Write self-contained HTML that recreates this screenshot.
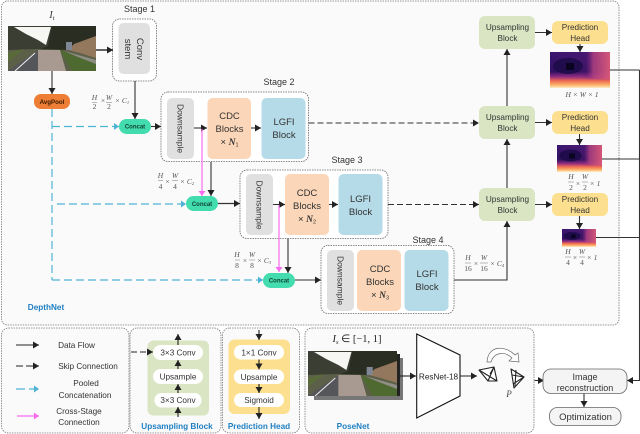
<!DOCTYPE html>
<html><head><meta charset="utf-8"><style>
html,body{margin:0;padding:0;background:#fff}
svg{display:block}
text{font-family:"Liberation Sans",sans-serif;fill:#333;text-anchor:middle}
.m{font-family:"Liberation Serif",serif;font-style:italic;fill:#555;font-size:7.5px}
.b{fill:#1f7fc4;font-weight:bold;font-size:8.2px}
.t{font-size:9.5px}
.s{font-size:9px}
.d{font-size:8.5px}
.l{font-size:8.2px;fill:#333}
.c{font-size:6px;font-weight:bold;fill:#143}
</style></head><body>
<svg xmlns="http://www.w3.org/2000/svg" width="640" height="434" viewBox="0 0 640 434">
<defs>
<marker id="a" markerUnits="userSpaceOnUse" markerWidth="7" markerHeight="8" refX="6" refY="4" orient="auto"><path d="M0 0.5L6 4L0 7.5Z" fill="#222"/></marker>
<marker id="bl" markerUnits="userSpaceOnUse" markerWidth="7" markerHeight="8" refX="5" refY="4" orient="auto"><path d="M0 0.5L5 4L0 7.5Z" fill="#4fb3d6"/></marker>
<marker id="p" markerUnits="userSpaceOnUse" markerWidth="7" markerHeight="8" refX="5" refY="4" orient="auto"><path d="M0 0.5L5 4L0 7.5Z" fill="#f86cf0"/></marker>
<linearGradient id="dv" x1="0" y1="0" x2="0" y2="1"><stop offset="0" stop-color="#3a1670"/><stop offset=".55" stop-color="#30105f"/><stop offset=".68" stop-color="#8a2a80"/><stop offset=".8" stop-color="#ee6a55"/><stop offset=".92" stop-color="#fdb46a"/><stop offset="1" stop-color="#fdeec8"/></linearGradient>
<linearGradient id="dh" x1="0" y1="0" x2="1" y2="0"><stop offset="0" stop-color="#b03a80" stop-opacity="0"/><stop offset=".6" stop-color="#8a2a80" stop-opacity=".15"/><stop offset=".72" stop-color="#b04080" stop-opacity=".85"/><stop offset="1" stop-color="#dc5a78" stop-opacity=".95"/></linearGradient>
<symbol id="scene" viewBox="0 0 88 45" preserveAspectRatio="none">
<rect width="88" height="45" fill="#2a2e22"/>
<path d="M0 0H44L40 20L30 24H0Z" fill="#3a3e33"/>
<path d="M6 1H43L38 19L30 14L18 8Z" fill="#f6f6f3"/>
<path d="M0 24L30 23L60 24L88 30V45H0Z" fill="#5c6048"/>
<path d="M0 27L16 23L0 36Z" fill="#5a6b3a"/>
<path d="M0 45L30 24H32L32 45Z" fill="#55565a"/>
<path d="M30 24L52 24L58 45L30 45Z" fill="#a89a90"/>
<path d="M52 24L88 38L88 45L64 45Z" fill="#4f6a30"/>
<path d="M56 25L88 34L88 38L70 31Z" fill="#8e8e84"/>
<path d="M60 24L66 18L88 10L88 32L72 27Z" fill="#94785e"/>
<path d="M58 16h6v8h-6z" fill="#7f8694"/>
<path d="M7 45L27 27" stroke="#eee" stroke-width="1" fill="none"/>
</symbol>
<symbol id="depth" viewBox="0 0 60 36" preserveAspectRatio="none">
<rect width="60" height="36" fill="url(#dv)"/>
<rect width="60" height="27" fill="url(#dh)"/>
<ellipse cx="18" cy="14" rx="15" ry="8" fill="#1c0a48" opacity=".85"/>
<rect x="16" y="11" width="8" height="7" fill="#0a0420"/>
</symbol>
</defs>

<!-- main panels -->
<rect x="1.5" y="1" width="617.5" height="324" rx="6" fill="#fafafa" stroke="#777" stroke-width=".8" stroke-dasharray="1.5 1"/>
<rect x="1.5" y="328" width="127.5" height="105" rx="7" fill="#fafafa" stroke="#777" stroke-width=".8" stroke-dasharray="1.5 1"/>
<rect x="130" y="328" width="91" height="105" rx="7" fill="#fafafa" stroke="#777" stroke-width=".8" stroke-dasharray="1.5 1"/>
<rect x="222.5" y="328" width="77" height="105" rx="7" fill="#fafafa" stroke="#777" stroke-width=".8" stroke-dasharray="1.5 1"/>
<rect x="305" y="328" width="229" height="105" rx="7" fill="#fafafa" stroke="#777" stroke-width=".8" stroke-dasharray="1.5 1"/>

<!-- stage boxes -->
<g fill="#fff" stroke="#666" stroke-width=".8" stroke-dasharray="1.5 1">
<rect x="112.5" y="19" width="44" height="62" rx="7"/>
<rect x="161" y="92" width="147.5" height="69.5" rx="7"/>
<rect x="240" y="170" width="148" height="68.5" rx="7"/>
<rect x="321" y="245.5" width="133" height="68" rx="7"/>
</g>
<text x="139.5" y="12" class="s">Stage 1</text>
<text x="279" y="85" class="s">Stage 2</text>
<text x="347" y="163" class="s">Stage 3</text>
<text x="428" y="243" class="s">Stage 4</text>

<!-- blocks -->
<g fill="#e0e0e0">
<rect x="118.5" y="23" width="31.5" height="51" rx="5"/>
<rect x="167" y="98" width="27" height="61" rx="5"/>
<rect x="246" y="174" width="27" height="61" rx="5"/>
<rect x="327" y="250" width="27" height="61" rx="5"/>
</g>
<g fill="#fbd6b8">
<rect x="207.5" y="98" width="43.5" height="61" rx="5"/>
<rect x="285" y="174" width="44" height="61" rx="5"/>
<rect x="357" y="250" width="44" height="61" rx="5"/>
</g>
<g fill="#b5dbe8">
<rect x="261.5" y="98" width="44" height="61" rx="5"/>
<rect x="338.5" y="174" width="44" height="61" rx="5"/>
<rect x="404.5" y="250" width="44" height="61" rx="5"/>
</g>
<text transform="translate(128 49) rotate(90)" x="0" y="3" class="t">stem</text>
<text transform="translate(140 49) rotate(90)" x="0" y="3" class="t">Conv</text>
<text transform="translate(180.5 128.5) rotate(90)" x="0" y="3" class="d">Downsample</text>
<text transform="translate(259.5 205) rotate(90)" x="0" y="3" class="d">Downsample</text>
<text transform="translate(340.5 280.5) rotate(90)" x="0" y="3" class="d">Downsample</text>
<text x="229.5" y="119" class="t">CDC</text><text x="229.5" y="132" class="t">Blocks</text>
<text x="229.5" y="145" class="t">× <tspan font-style="italic" font-weight="bold" font-family="Liberation Serif">N</tspan><tspan font-size="5.5" dy="1.5">1</tspan></text>
<text x="284" y="125" class="t">LGFI</text><text x="284" y="138" class="t">Block</text>
<text x="307" y="196" class="t">CDC</text><text x="307" y="209" class="t">Blocks</text>
<text x="307" y="222" class="t">× <tspan font-style="italic" font-weight="bold" font-family="Liberation Serif">N</tspan><tspan font-size="5.5" dy="1.5">2</tspan></text>
<text x="360.5" y="202" class="t">LGFI</text><text x="360.5" y="215" class="t">Block</text>
<text x="380" y="272" class="t">CDC</text><text x="380" y="285" class="t">Blocks</text>
<text x="380" y="298" class="t">× <tspan font-style="italic" font-weight="bold" font-family="Liberation Serif">N</tspan><tspan font-size="5.5" dy="1.5">3</tspan></text>
<text x="427" y="277" class="t">LGFI</text><text x="427" y="290" class="t">Block</text>

<!-- images -->
<text x="52" y="18" style="font-family:'Liberation Serif',serif;font-style:italic;font-size:10px;fill:#333">I<tspan font-size="6.5" dy="2">t</tspan></text>
<use href="#scene" x="8" y="26" width="88" height="45"/>

<!-- AvgPool & Concat -->
<rect x="34" y="94" width="36" height="15" rx="7" fill="#ee7d35"/>
<text x="52" y="104" class="c" style="fill:#3a1a00;font-size:6.2px">AvgPool</text>
<g fill="#42dcae">
<rect x="119" y="119" width="32" height="15" rx="7.5"/>
<rect x="186" y="196" width="32" height="15" rx="7.5"/>
<rect x="263" y="273" width="32" height="15" rx="7.5"/>
</g>
<text x="135" y="128.5" class="c">Concat</text>
<text x="202" y="206" class="c">Concat</text>
<text x="279" y="282.5" class="c">Concat</text>

<!-- solid arrows -->
<g stroke="#333" stroke-width="1.1" fill="none" marker-end="url(#a)">
<path d="M96 50H113" stroke-width="1.4"/>
<path d="M52 71V94"/>
<path d="M135 81V119"/>
<path d="M151 126.5H161"/>
<path d="M194 128H207"/>
<path d="M251 128H261"/>
<path d="M211 162V196"/>
<path d="M218 203.5H240" stroke-width="1.3"/>
<path d="M273 204.5H285"/>
<path d="M329 204.5H338"/>
<path d="M288 238.5V273"/>
<path d="M295 280H321"/>
<path d="M454 280H507V221"/>
<path d="M507 188V139"/>
<path d="M507 106V49"/>
<path d="M535 32.5H552"/>
<path d="M535 122.5H552"/>
<path d="M535 204.5H552"/>
<path d="M580 44V52"/>
<path d="M579.5 134V145"/>
<path d="M579.5 216V229"/>
<path d="M639.5 70V380.5H627"/>
<path d="M584 393V407"/>
<path d="M534.5 380.5H544"/>
</g>
<path d="M610 70H639.5M602 159H639.5M596 237.5H639.5" stroke="#333" stroke-width="1.1" fill="none"/>

<!-- dashed black -->
<g stroke="#333" stroke-width="1.1" fill="none" stroke-dasharray="6 3" marker-end="url(#a)">
<path d="M308.5 123H479"/>
<path d="M388 204.5H479"/>
</g>

<!-- pooled -->
<g stroke="#4fb3d6" stroke-width="1.2" fill="none" stroke-dasharray="8 4">
<path d="M52 109V280"/>
<path d="M52 126.5H119" marker-end="url(#bl)"/>
<path d="M57 204H186" marker-end="url(#bl)"/>
<path d="M52 280H263" marker-end="url(#bl)"/>
</g>

<!-- cross stage -->
<g stroke="#f86cf0" stroke-width="1.2" fill="none" marker-end="url(#p)">
<path d="M202 129V196"/>
<path d="M279 205V272"/>
</g>

<!-- up block & heads -->
<g fill="#d9e5c3">
<rect x="479" y="16" width="56" height="33" rx="6"/>
<rect x="479" y="106" width="56" height="33" rx="6"/>
<rect x="479" y="188" width="56" height="33" rx="6"/>
</g>
<g fill="#fde08f">
<rect x="552" y="21" width="56" height="23" rx="6"/>
<rect x="552" y="111" width="56" height="23" rx="6"/>
<rect x="552" y="193" width="56" height="23" rx="6"/>
</g>
<text x="507.5" y="30" class="l">Upsampling</text><text x="507.5" y="41" class="l">Block</text>
<text x="507.5" y="120" class="l">Upsampling</text><text x="507.5" y="131" class="l">Block</text>
<text x="507.5" y="202" class="l">Upsampling</text><text x="507.5" y="213" class="l">Block</text>
<text x="580" y="30" class="l">Prediction</text><text x="580" y="41" class="l">Head</text>
<text x="580" y="120" class="l">Prediction</text><text x="580" y="131" class="l">Head</text>
<text x="580" y="202" class="l">Prediction</text><text x="580" y="213" class="l">Head</text>
<use href="#depth" x="550" y="52" width="60" height="36"/>
<use href="#depth" x="557" y="145" width="45" height="27"/>
<use href="#depth" x="562" y="229" width="34" height="18"/>

<!-- math labels -->
<text x="94.5" y="100" class="m">H</text><path d="M92 102.5H97" stroke="#777" stroke-width=".5"/><text x="94.5" y="109" class="m" style="font-style:normal">2</text>
<text x="103" y="103" class="m" style="font-style:normal">×</text>
<text x="109" y="100" class="m">W</text><path d="M106 102.5H112" stroke="#777" stroke-width=".5"/><text x="109" y="109" class="m" style="font-style:normal">2</text>
<text x="122" y="103" class="m">× C<tspan font-size="4.5" dy="1">1</tspan></text>

<text x="160.5" y="178" class="m">H</text><path d="M158 180.5H163" stroke="#777" stroke-width=".5"/><text x="160.5" y="189" class="m" style="font-style:normal">4</text>
<text x="167.5" y="184" class="m" style="font-style:normal">×</text>
<text x="175" y="178" class="m">W</text><path d="M172 180.5H178" stroke="#777" stroke-width=".5"/><text x="175" y="189" class="m" style="font-style:normal">4</text>
<text x="187" y="184" class="m">× C<tspan font-size="4.5" dy="1">2</tspan></text>

<text x="237" y="257" class="m">H</text><path d="M235 260H240" stroke="#777" stroke-width=".5"/><text x="237" y="268" class="m" style="font-style:normal">8</text>
<text x="245" y="263" class="m" style="font-style:normal">×</text>
<text x="252" y="257" class="m">W</text><path d="M249 260H255" stroke="#777" stroke-width=".5"/><text x="252" y="268" class="m" style="font-style:normal">8</text>
<text x="264" y="263" class="m">× C<tspan font-size="4.5" dy="1">3</tspan></text>

<text x="468" y="260" class="m">H</text><path d="M465 263H471" stroke="#777" stroke-width=".5"/><text x="468" y="271" class="m" style="font-style:normal">16</text>
<text x="476" y="266" class="m" style="font-style:normal">×</text>
<text x="484" y="260" class="m">W</text><path d="M480 263H488" stroke="#777" stroke-width=".5"/><text x="484" y="271" class="m" style="font-style:normal">16</text>
<text x="497" y="266" class="m">× C<tspan font-size="4.5" dy="1">4</tspan></text>

<text x="582" y="97" class="m">H × W × 1</text>

<text x="571" y="179" class="m">H</text><path d="M568 182H574" stroke="#777" stroke-width=".5"/><text x="571" y="190" class="m" style="font-style:normal">2</text>
<text x="578" y="186" class="m" style="font-style:normal">×</text>
<text x="585" y="179" class="m">W</text><path d="M582 182H588" stroke="#777" stroke-width=".5"/><text x="585" y="190" class="m" style="font-style:normal">2</text>
<text x="595" y="186" class="m">× 1</text>

<text x="568" y="254" class="m">H</text><path d="M565 257H571" stroke="#777" stroke-width=".5"/><text x="568" y="265" class="m" style="font-style:normal">4</text>
<text x="575" y="260" class="m" style="font-style:normal">×</text>
<text x="582" y="254" class="m">W</text><path d="M579 257H585" stroke="#777" stroke-width=".5"/><text x="582" y="265" class="m" style="font-style:normal">4</text>
<text x="592" y="260" class="m">× 1</text>

<text x="46" y="310" class="b">DepthNet</text>

<!-- legend -->
<path d="M16 345H39" stroke="#222" stroke-width="1.1" marker-end="url(#a)"/>
<path d="M16 366H39" stroke="#222" stroke-width="1.1" stroke-dasharray="7 3" marker-end="url(#a)"/>
<path d="M16 389H39" stroke="#4fb3d6" stroke-width="1.2" stroke-dasharray="9 4" marker-end="url(#bl)"/>
<path d="M17 416H39" stroke="#f86cf0" stroke-width="1.2" marker-end="url(#p)"/>
<text x="76.5" y="348" class="l">Data Flow</text>
<text x="88" y="369" class="l">Skip Connection</text>
<text x="86" y="386" class="l">Pooled</text>
<text x="85" y="398" class="l">Concatenation</text>
<text x="79" y="414" class="l">Cross-Stage</text>
<text x="79" y="425" class="l">Connection</text>

<!-- up block legend -->
<rect x="147.5" y="340.5" width="61.5" height="75" rx="6" fill="#d9e5c3"/>
<g fill="#fff">
<rect x="153" y="345" width="50" height="15" rx="7.5"/>
<rect x="153" y="369" width="50" height="15" rx="7.5"/>
<rect x="154.5" y="393" width="47" height="14.5" rx="7"/>
</g>
<text x="178" y="355.5" class="l">3×3 Conv</text>
<text x="178" y="379.5" class="l">Upsample</text>
<text x="178" y="403" class="l">3×3 Conv</text>
<g stroke="#222" stroke-width="1.1" fill="none" marker-end="url(#a)">
<path d="M178 345V334"/><path d="M178 369V360"/><path d="M178 393V384"/><path d="M178 417V407"/>
</g>
<path d="M131 352H153" stroke="#222" stroke-width="1.1" stroke-dasharray="6 3" marker-end="url(#a)"/>
<text x="177" y="429" class="b">Upsampling Block</text>

<!-- pred head legend -->
<rect x="228.5" y="339.5" width="61.5" height="74.5" rx="6" fill="#fde08f"/>
<g fill="#fff">
<rect x="234" y="345" width="50" height="14.5" rx="7"/>
<rect x="234" y="369.5" width="50" height="14.5" rx="7"/>
<rect x="234" y="393" width="50" height="14" rx="7"/>
</g>
<text x="259" y="355.5" class="l">1×1 Conv</text>
<text x="259" y="380" class="l">Upsample</text>
<text x="259" y="403" class="l">Sigmoid</text>
<g stroke="#222" stroke-width="1.1" fill="none" marker-end="url(#a)">
<path d="M259 330V340"/><path d="M259 359.5V369.5"/><path d="M259 384V393"/><path d="M259 407V419"/>
</g>
<text x="259" y="429" class="b">Prediction Head</text>

<!-- posenet -->
<text x="357" y="342" style="font-family:'Liberation Serif',serif;font-size:10.5px;fill:#222"><tspan font-style="italic">I</tspan><tspan font-size="6.5" font-style="italic" dy="2">s</tspan><tspan dy="-2"> ∈ [−1, 1]</tspan></text>
<rect x="314" y="358" width="89" height="42" fill="#777"/>
<rect x="311" y="354" width="89" height="42" fill="#222"/>
<use href="#scene" x="308" y="351" width="89" height="45"/>
<path d="M400 376H416" stroke="#222" stroke-width="1.1" marker-end="url(#a)"/>
<path d="M416.7 334L460 355V396L416.7 418Z" fill="#fff" stroke="#111" stroke-width="1.1"/>
<text x="438.5" y="379.5" class="l" style="fill:#222">ResNet-18</text>
<path d="M460 376H477" stroke="#222" stroke-width="1.1" marker-end="url(#a)"/>
<text x="509" y="397" style="font-family:'Liberation Serif',serif;font-style:italic;font-size:9px;fill:#444">P</text>
<g stroke="#222" stroke-width="1.1" fill="#fff" stroke-linejoin="round">
<path d="M479 370L494 367L497 381L488 381Z"/><path d="M479 370L497 381M494 367L488 381M490 374L494 367" fill="none"/>
<path d="M511 369L524 377L514 388L511 369Z"/><path d="M512 375L524 377L513 384M516 370L515 386" fill="none"/>
</g>
<path d="M487 362C488 345 505 345 515 355L518 353L519 362L509 361L512 358C505 351 494 352 491 362Z" fill="#fff" stroke="#666" stroke-width=".7"/>

<!-- reconstruction -->
<rect x="543" y="369" width="84" height="24.5" rx="8" fill="#f4f4f4" stroke="#666" stroke-width=".8"/>
<text x="585" y="380" class="s">Image</text>
<text x="585" y="391" class="s">reconstruction</text>
<rect x="549.5" y="407.5" width="71.5" height="18" rx="8" fill="#f4f4f4" stroke="#666" stroke-width=".8"/>
<text x="585.5" y="420" class="t">Optimization</text>
<text x="353" y="429" class="b">PoseNet</text>
</svg>
</body></html>
